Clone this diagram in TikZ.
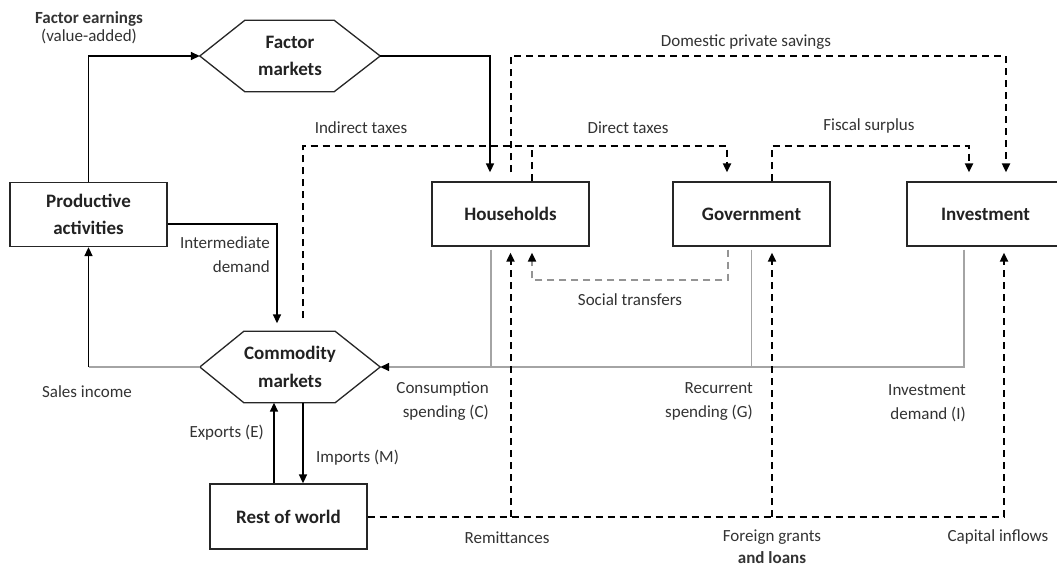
\documentclass[tikz,border=0pt]{standalone}
\usepackage{fontspec}
\setmainfont{Carlito}
\usetikzlibrary{arrows.meta,calc}
\definecolor{lg}{HTML}{A4A4A4}
\definecolor{tx}{HTML}{222222}
\definecolor{lbltx}{HTML}{333333}
\tikzset{
  box/.style={draw=black!85, line width=1.3pt, minimum width=157pt, minimum height=64pt,
    inner sep=0pt, font=\fontsize{19}{27.5}\selectfont\bfseries, align=center, text=tx},
  hexn/.style={minimum width=180pt, minimum height=71pt, inner sep=0pt,
    font=\fontsize{19}{27.5}\selectfont\bfseries, align=center, text=tx},
  hexline/.style={draw=black!85, line width=1.3pt},
  lbl/.style={font=\fontsize{17}{24}\selectfont, text=lbltx, inner sep=0pt, align=center},
  tip/.style={-{Triangle[length=9pt,width=8pt,color=black]}},
  arr/.style={line width=1.6pt, tip},
  dl/.style={line width=2pt, dash pattern=on 7pt off 5pt},
  gl/.style={line width=1.6pt, draw=lg},
  gdl/.style={line width=2pt, draw=lg!90!black, dash pattern=on 7pt off 5pt},
}
\begin{document}
\begin{tikzpicture}[x=1pt, y=-1pt]
\useasboundingbox (0,0) rectangle (1057,568);
\clip (0,0) rectangle (1057,568);
\fill[white] (0,0) rectangle (1057,568);

% nodes
\node[box] (pa)  at (88.5,214.5) {Productive\\activities};
\node[box] (hh)  at (510.5,214)  {Households};
\node[box] (gov) at (751.5,214)  {Government};
\node[box] (inv) at (985.5,214)  {Investment};
\node[box, minimum height=65pt] (row) at (288.5,516.5) {Rest of world};
\node[hexn] (fm) at (290,56)  {Factor\\markets};
\node[hexn] (cm) at (290,367) {Commodity\\markets};

\draw[hexline] (fm.west) -- ([xshift=45pt]fm.north west) -- ([xshift=-46pt]fm.north east)
  -- (fm.east) -- ([xshift=-46pt]fm.south east) -- ([xshift=45pt]fm.south west) -- cycle;
\draw[hexline] (cm.west) -- ([xshift=44pt]cm.north west) -- ([xshift=-45pt]cm.north east)
  -- (cm.east) -- ([xshift=-45pt]cm.south east) -- ([xshift=44pt]cm.south west) -- cycle;

% level coordinates
\coordinate (taxlvl) at (0,146);
\coordinate (stlvl) at (0,280);

% solid flows
\draw[arr] (pa.north) |- (fm.west);
\draw[arr, shorten >=9pt] (fm.east) -| ([xshift=-20.5pt]hh.north);
\draw[arr, shorten >=8pt] ([yshift=-9.5pt]pa.east) -| ([xshift=-13pt]cm.north);
\draw[gl] (cm.west) -- (cm.west -| pa.south);
\draw[arr] (cm.west -| pa.south) -- (pa.south);
\draw[arr] ([xshift=-14.5pt]row.north) -- ([xshift=-14.5pt]row.north |- cm.south);
\draw[arr] ([xshift=14.5pt]row.north |- cm.south) -- ([xshift=14.5pt]row.north);

% spending flows (grey)
\draw[gl, tip, shorten <=3pt] ([xshift=-21.5pt]inv.south) -- ([xshift=-21.5pt]inv.south |- cm.east) -- (cm.east);
\draw[gl, shorten <=3pt] ([xshift=-19.5pt]hh.south) -- ([xshift=-19.5pt]hh.south |- cm.east);
\draw[gl, shorten <=3pt] (gov.south) -- (gov.south |- cm.east);

% taxes
\draw[dl, tip, shorten <=13pt, shorten >=9pt] ([xshift=13pt]cm.north) -- ([xshift=13pt]cm.north |- taxlvl) -| ([xshift=-24.5pt]gov.north);
\draw[dl] ([xshift=21.5pt]hh.north) -- ([xshift=21.5pt]hh.north |- taxlvl);

% savings
\draw[dl, tip, shorten <=9pt, shorten >=9pt] (hh.north) -- (hh.north |- fm.east) -| ([xshift=20.5pt]inv.north);
\draw[dl, tip, shorten >=9pt] ([xshift=20.5pt]gov.north) -- ([xshift=20.5pt]gov.north |- taxlvl) -| ([xshift=-16.5pt]inv.north);

% social transfers
\draw[gdl, tip, shorten <=3pt, shorten >=6pt] ([xshift=-23.5pt]gov.south) -- ([xshift=-23.5pt]gov.south |- stlvl) -| ([xshift=21.5pt]hh.south);

% foreign flows
\draw[dl, tip, shorten >=6pt] (row.east) -| ([xshift=18.5pt]inv.south);
\draw[dl, tip, shorten >=6pt] (hh.south |- row.east) -- (hh.south);
\draw[dl, tip, shorten >=6pt] ([xshift=20.5pt]gov.south |- row.east) -- ([xshift=20.5pt]gov.south);

% labels
\node[lbl] (l1) at (89,28) {\textbf{Factor earnings}\\[-6pt](value-added)};
\node[lbl] (l2) at (361,128) {Indirect taxes};
\node[lbl] (l3) at (628,128) {Direct taxes};
\node[lbl] (l4) at (746,42) {Domestic private savings};
\node[lbl] (l5) at (869,126) {Fiscal surplus};
\node[lbl, anchor=east, align=right] (l6) at (270,254.5) {Intermediate\\demand};
\node[lbl] (l7) at (87,392) {Sales income};
\node[lbl, anchor=east, align=right] (l8) at (489,401) {Consumption\\spending (C)};
\node[lbl, anchor=east, align=right] (l9) at (753,401.5) {Recurrent\\spending (G)};
\node[lbl, anchor=east, align=right] (l10) at (966,403) {Investment\\demand (I)};
\node[lbl, anchor=east] (l11) at (264,433) {Exports (E)};
\node[lbl, anchor=west] (l12) at (316,458) {Imports (M)};
\node[lbl] (l13) at (630,300) {Social transfers};
\node[lbl] (l14) at (507,538) {Remittances};
\node[lbl] (l15) at (772,547) {Foreign grants\\[-2pt]\textbf{and loans}};
\node[lbl] (l16) at (998,537) {Capital inflows};
\end{tikzpicture}
\end{document}
